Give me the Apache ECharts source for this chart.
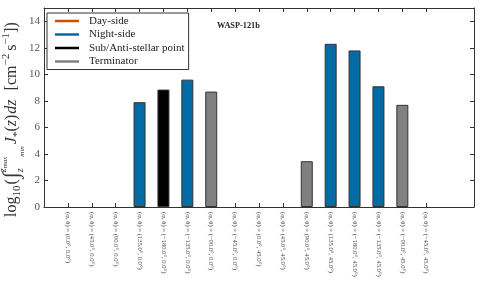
<!DOCTYPE html>
<html><head><meta charset="utf-8">
<script src="https://cdn.jsdelivr.net/npm/echarts@6/dist/echarts.min.js"></script>
<style>html,body{margin:0;padding:0;background:#fff}#c{width:483px;height:290px}</style>
</head><body><div id="c"></div>
<script>
// ---- data ----
const categories = [
  '(φ, θ) = (0.0°, 0.0°)', '(φ, θ) = (45.0°, 0.0°)', '(φ, θ) = (90.0°, 0.0°)', '(φ, θ) = (135.0°, 0.0°)',
  '(φ, θ) = (−180.0°, 0.0°)', '(φ, θ) = (−135.0°, 0.0°)', '(φ, θ) = (−90.0°, 0.0°)', '(φ, θ) = (−45.0°, 0.0°)',
  '(φ, θ) = (0.0°, 45.0°)', '(φ, θ) = (45.0°, 45.0°)', '(φ, θ) = (90.0°, 45.0°)', '(φ, θ) = (135.0°, 45.0°)',
  '(φ, θ) = (−180.0°, 45.0°)', '(φ, θ) = (−135.0°, 45.0°)', '(φ, θ) = (−90.0°, 45.0°)', '(φ, θ) = (−45.0°, 45.0°)'
];
const values = [0, 0, 0, 7.9, 8.85, 9.6, 8.7, 0, 0, 0, 3.45, 12.3, 11.8, 9.1, 7.7, 0];
const regions = [
  'Sub/Anti-stellar point', 'Day-side', 'Terminator', 'Night-side',
  'Sub/Anti-stellar point', 'Night-side', 'Terminator', 'Day-side',
  'Day-side', 'Day-side', 'Terminator', 'Night-side',
  'Night-side', 'Night-side', 'Terminator', 'Day-side'
];
const legendNames = ['Day-side', 'Night-side', 'Sub/Anti-stellar point', 'Terminator'];
const legendColors = ['#C85200', '#006BA4', '#000000', '#808080'];
const yTicks = [0, 2, 4, 6, 8, 10, 12, 14];
const titleText = 'WASP-121b';

// ---- chart ----
const colorOf = {};
legendNames.forEach((n, i) => colorOf[n] = legendColors[i]);
const idx = categories.map((c, i) => i);
const serif = 'Liberation Serif';

const barData = values.map((v, i) => ({
  value: [i, v],
  itemStyle: { color: colorOf[regions[i]], borderWidth: v > 0 ? 1 : 0 }
}));

// y label built from pieces (rotated group)
const yLabelTokens = [
  { t: 'log', s: 16 },
  { t: '10', s: 11, dy: 4 },
  { t: '(', s: 16, gap: 1 },
  { t: '∫', s: 22, dy: 2, gap: 1 },
  { t: 'z', s: 10, it: true, dy: -10 },
  { t: 'max', s: 7, it: true, dy: -9 },
  { t: 'z', s: 10, it: true, dy: 7, back: 2 },
  { t: 'min', s: 7, it: true, dy: 8 },
  { t: 'J', s: 16, it: true, gap: 2 },
  { t: '*', s: 11, dy: 4 },
  { t: '(', s: 16 },
  { t: 'z', s: 16, it: true },
  { t: ')', s: 16 },
  { t: 'dz', s: 16, it: true, gap: 1 },
  { t: '[cm', s: 16, gap: 9 },
  { t: '−2', s: 11, dy: -7 },
  { t: 's', s: 16, gap: 3 },
  { t: '−1', s: 11, dy: -7 },
  { t: '])', s: 16 }
];
const cv = document.createElement('canvas').getContext('2d');
function fontOf(tk) { return (tk.it ? 'italic ' : '') + tk.s + 'px "' + serif + '"'; }
const yLabelChildren = [];
let cx = 0; const starts = [];
yLabelTokens.forEach((tk, k) => {
  cv.font = fontOf(tk);
  const w = cv.measureText(tk.t).width;
  const x = tk.back ? starts[k - tk.back] : cx + (tk.gap || 0);
  starts.push(x);
  cx = tk.back ? Math.max(cx, x + w) : x + w;
  yLabelChildren.push({
    type: 'text', x: x, y: (tk.dy || 0) + tk.s * 0.22,
    style: { text: tk.t, font: fontOf(tk), fill: '#333', textVerticalAlign: 'bottom', textAlign: 'left' }
  });
});

const option = {
  animation: false,
  grid: { left: 44, right: 9, top: 8, bottom: 83 },
  xAxis: [{
    type: 'value', min: -1, max: 17, position: 'bottom',
    axisLine: { show: true, onZero: false, lineStyle: { color: '#333', width: 1 } },
    axisTick: { show: true, inside: true, length: 4, customValues: idx, lineStyle: { color: '#333' } },
    axisLabel: {
      show: true, customValues: idx, rotate: -90, margin: 5,
      fontSize: 6.6, fontFamily: serif, color: '#444',
      formatter: v => categories[Math.round(v)]
    },
    splitLine: { show: false }
  }, {
    type: 'value', min: -1, max: 17, position: 'top',
    axisLine: { show: true, onZero: false, lineStyle: { color: '#333', width: 1 } },
    axisTick: { show: true, inside: true, length: 4, customValues: idx, lineStyle: { color: '#333' } },
    axisLabel: { show: false },
    splitLine: { show: false }
  }],
  yAxis: [{
    type: 'value', min: 0, max: 15, position: 'left',
    axisLine: { show: true, onZero: false, lineStyle: { color: '#333', width: 1 } },
    axisTick: { show: true, inside: true, length: 4, customValues: yTicks, lineStyle: { color: '#333' } },
    axisLabel: { show: true, customValues: yTicks, fontSize: 11, fontFamily: serif, color: '#555', margin: 4 },
    splitLine: { show: false }
  }, {
    type: 'value', min: 0, max: 15, position: 'right',
    axisLine: { show: true, onZero: false, lineStyle: { color: '#333', width: 1 } },
    axisTick: { show: true, inside: true, length: 4, customValues: yTicks, lineStyle: { color: '#333' } },
    axisLabel: { show: false },
    splitLine: { show: false }
  }],
  legend: {
    orient: 'vertical', left: 47, top: 13,
    data: legendNames.map(n => ({ name: n, icon: 'rect' })),
    itemWidth: 24, itemHeight: 2.5, itemGap: 1.5,
    padding: [2, 4, 2, 8],
    borderColor: '#333', borderWidth: 1, backgroundColor: '#fff',
    textStyle: { fontFamily: serif, fontSize: 11, color: '#222', lineHeight: 12, padding: [0, 0, 0, 5] },
    selectedMode: false
  },
  graphic: [
    { type: 'text', left: 217, top: 22, style: { text: titleText, font: 'bold 8.3px "' + serif + '"', fill: '#222' } },
    { type: 'group', x: 16, y: 217, rotation: Math.PI / 2, children: yLabelChildren }
  ],
  series: [
    {
      type: 'bar', name: 'bars', data: barData, barWidth: 12, xAxisIndex: 0, yAxisIndex: 0,
      itemStyle: { borderColor: '#333' }
    }
  ].concat(legendNames.map((n, i) => ({
    type: 'line', name: n, data: [], color: legendColors[i], xAxisIndex: 0, yAxisIndex: 0
  })))
};
const chart = echarts.init(document.getElementById('c'), null, { renderer: 'canvas' });
chart.setOption(option);
</script>
</body></html>
